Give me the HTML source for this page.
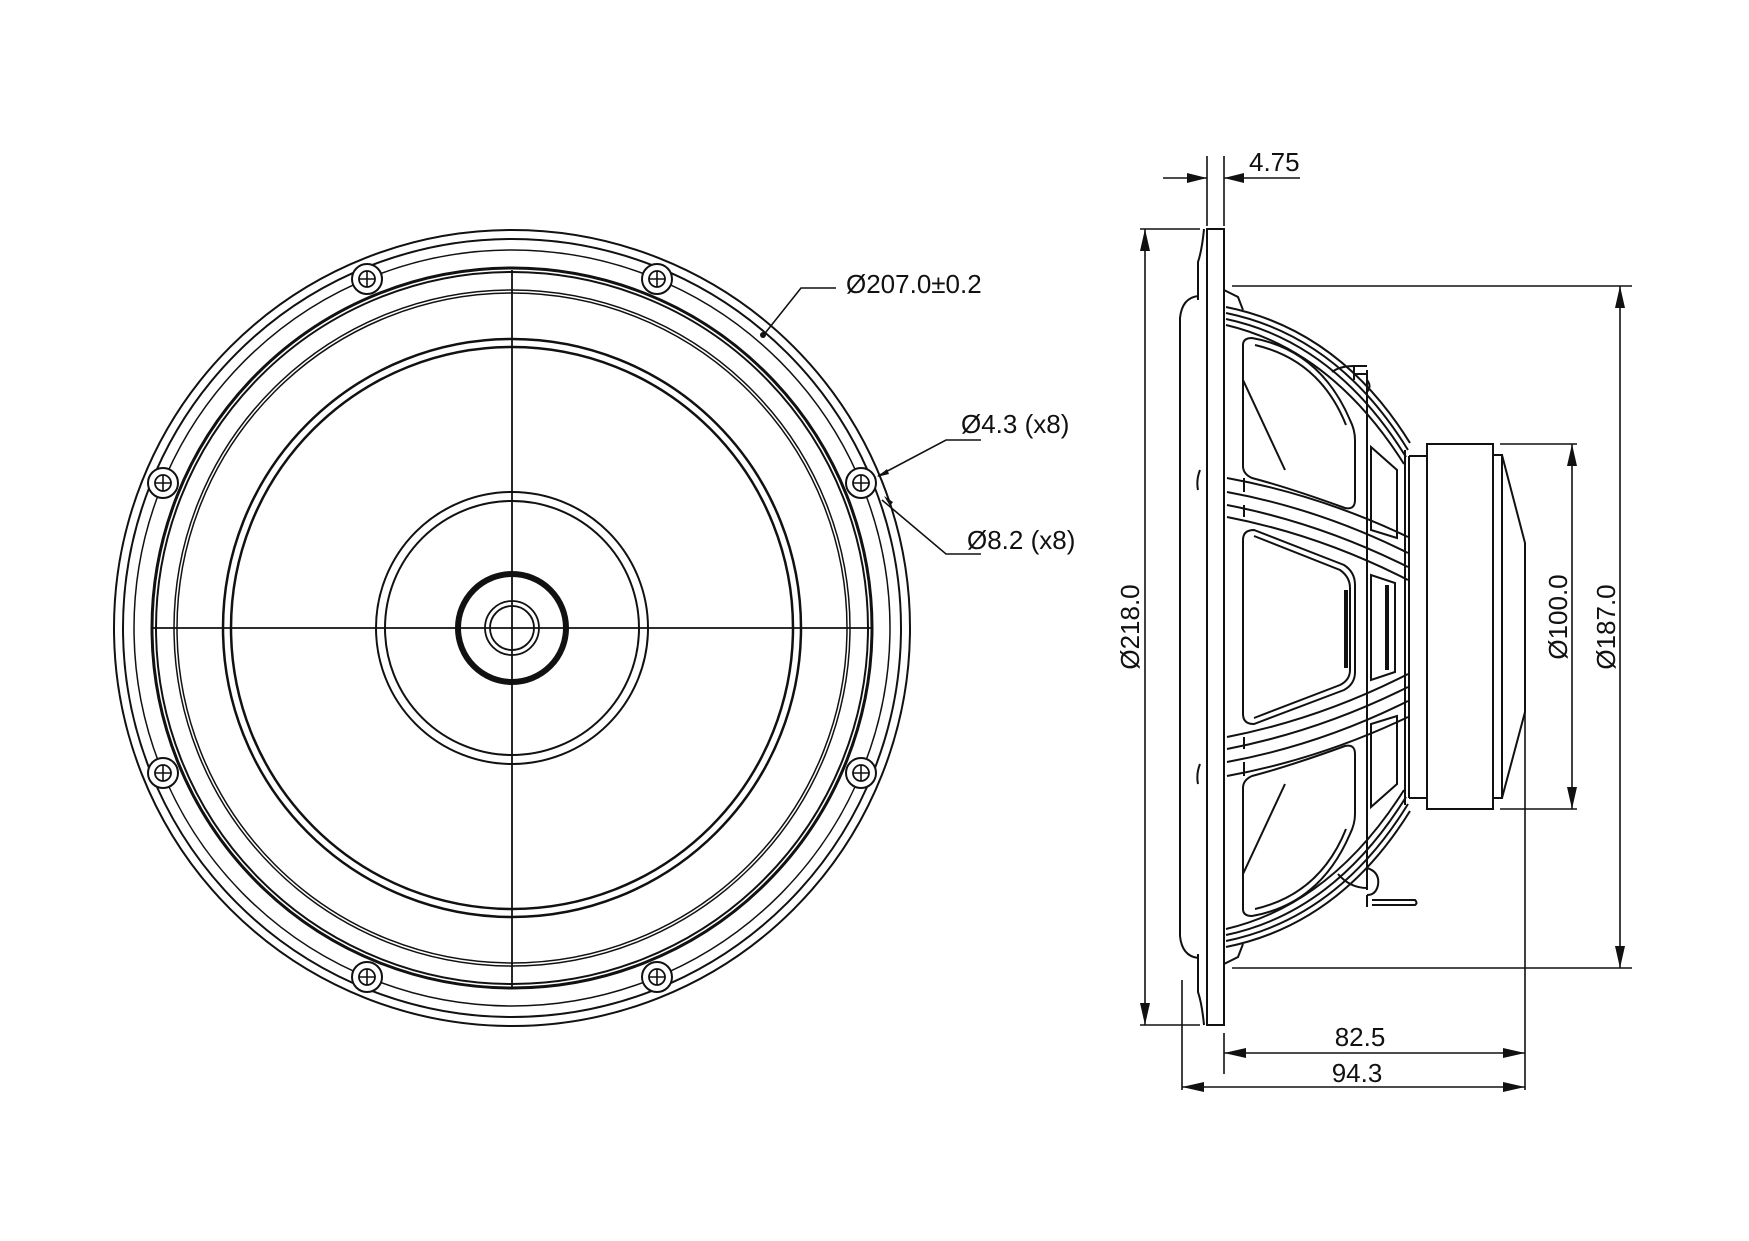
<!DOCTYPE html>
<html><head><meta charset="utf-8"><style>
html,body{margin:0;padding:0;background:#fff;}
svg{display:block;}
text{font-family:"Liberation Sans",Arial,sans-serif;fill:#111;}
</style></head><body>
<svg width="1749" height="1241" viewBox="0 0 1749 1241" xmlns="http://www.w3.org/2000/svg">
<defs>
<g id="scr"><circle r="15" fill="#fff" stroke="#111" stroke-width="2"/><circle r="8" fill="none" stroke="#111" stroke-width="1.8"/><path d="M-8 0H8M0 -8V8" stroke="#111" stroke-width="1.6"/></g>
</defs>
<g fill="none" stroke="#111">
<circle cx="512" cy="628" r="398" stroke-width="2"/>
<circle cx="512" cy="628" r="389" stroke-width="2"/>
<circle cx="512" cy="628" r="378" stroke-width="1.5"/>
<circle cx="512" cy="628" r="360" stroke-width="3"/>
<circle cx="512" cy="628" r="356" stroke-width="2"/>
<circle cx="512" cy="628" r="338" stroke-width="1.5"/>
<circle cx="512" cy="628" r="335" stroke-width="1.5"/>
<circle cx="512" cy="628" r="289" stroke-width="2.5"/>
<circle cx="512" cy="628" r="281" stroke-width="2.5"/>
<circle cx="512" cy="628" r="136" stroke-width="2"/>
<circle cx="512" cy="628" r="127" stroke-width="2"/>
<circle cx="512" cy="628" r="54" stroke-width="6"/>
<circle cx="512" cy="628" r="27" stroke-width="1.8"/>
<circle cx="512" cy="628" r="22" stroke-width="1.8"/>
<path d="M152 628H871M512 270V987" stroke-width="1.8"/>
</g>
<use href="#scr" x="367" y="279"/>
<use href="#scr" x="657" y="279"/>
<use href="#scr" x="163" y="483"/>
<use href="#scr" x="861" y="483"/>
<use href="#scr" x="163" y="773"/>
<use href="#scr" x="861" y="773"/>
<use href="#scr" x="367" y="977"/>
<use href="#scr" x="657" y="977"/>
<g fill="none" stroke="#111" stroke-width="1.6">
<path d="M762 337L801 288H836"/>
<path d="M878 476L946 440H981"/>
<path d="M882 500L946 554H981"/>
</g>
<circle cx="763" cy="335" r="3" fill="#111"/>
<path d="M877 477l10 -8l2 5z M884 496l6 10l3-4z" fill="#111"/>
<text x="846" y="293" font-size="26">Ø207.0±0.2</text>
<text x="961" y="433" font-size="26">Ø4.3 (x8)</text>
<text x="967" y="549" font-size="26">Ø8.2 (x8)</text>

<g fill="none" stroke="#111" stroke-width="2">
<rect x="1207" y="229" width="17" height="796"/>
<path d="M1204 229 Q1202 250 1198 262 L1198 300 M1204 1025 Q1202 1004 1198 992 L1198 954"/>
<path d="M1198 296 Q1182 298 1180 318 V936 Q1182 956 1198 958"/>
<path d="M1200 470 Q1196 480 1198 490 M1200 764 Q1196 774 1198 784"/>
<path d="M1224 290 L1238 297 L1243 310 M1224 964 L1238 957 L1243 944"/>
<path d="M1226 307 Q1340 330 1410 443"/>
<path d="M1226 313 Q1338 336 1408 450"/>
<path d="M1226 319 Q1335 342 1406 457"/>
<path d="M1226 325 Q1332 350 1404 464"/>
<path d="M1226 947 Q1340 924 1410 811"/>
<path d="M1226 941 Q1338 918 1408 804"/>
<path d="M1226 935 Q1335 912 1406 797"/>
<path d="M1226 929 Q1332 904 1404 790"/>
<path d="M1227 478 Q1320 495 1408 537"/>
<path d="M1227 492 Q1320 509 1408 553"/>
<path d="M1227 505 Q1320 523 1408 567"/>
<path d="M1227 517 Q1320 535 1408 580"/>
<path d="M1244 478V492M1244 505V517"/>
<path d="M1227 776 Q1320 759 1408 717"/>
<path d="M1227 762 Q1320 745 1408 701"/>
<path d="M1227 749 Q1320 731 1408 687"/>
<path d="M1227 737 Q1320 719 1408 674"/>
<path d="M1244 776V762M1244 749V737"/>
<path d="M1243 345 Q1243 338 1252 338 Q1320 350 1350 420 Q1355 430 1355 440 V500 Q1355 510 1345 508 Q1290 488 1252 478 Q1243 474 1243 466 Z"/>
<path d="M1255 345 Q1320 360 1346 425 M1243 380 L1285 470"/>
<path d="M1243 909 Q1243 916 1252 916 Q1320 904 1350 834 Q1355 824 1355 814 V754 Q1355 744 1345 746 Q1290 766 1252 776 Q1243 780 1243 788 Z"/>
<path d="M1255 909 Q1320 894 1346 829 M1243 874 L1285 784"/>
<path d="M1243 540 Q1243 530 1254 530 L1344 565 Q1355 572 1355 585 V672 Q1355 684 1344 690 L1254 724 Q1243 724 1243 714 Z"/>
<path d="M1254 536 L1340 570 Q1350 577 1350 588 V670 Q1350 680 1340 685 L1254 718"/>
<path d="M1346 590V668" stroke-width="4"/>
<path d="M1367 370V890"/>
<path d="M1405 450V805"/>
<path d="M1409 456V798"/>
<path d="M1371 447V530L1397 538V470Z"/>
<path d="M1371 575V680L1395 672V583Z"/>
<path d="M1387 585V670" stroke-width="4"/>
<path d="M1371 807V724L1397 716V784Z"/>
<path d="M1332 372 Q1340 366 1354 366 H1367 M1354 366V380 M1354 374H1367 M1367 380 Q1372 386 1367 392"/>
<path d="M1338 874 Q1350 888 1367 888 M1367 868 Q1380 872 1378 885 Q1376 895 1367 895 M1367 895V907 M1372 900 H1415 Q1418 903 1415 905 H1372"/>
<path d="M1409 456H1427V798H1409"/>
<rect x="1427" y="444" width="66" height="365"/>
<rect x="1493" y="455" width="9" height="343"/>
<path d="M1502 455 L1525 543 V712 L1502 798"/>
</g>
<g fill="none" stroke="#111" stroke-width="1.6">
<path d="M1207 156V226M1224 156V226"/>
<path d="M1163 178H1207M1224 178H1300"/>
<path d="M1140 229H1200M1140 1025H1200M1145 229V1025"/>
<path d="M1232 286H1632M1232 968H1632M1620 286V968"/>
<path d="M1500 444H1577M1500 809H1577M1572 444V809"/>
<path d="M1224 1033V1074M1182 980V1090M1525 712V1090"/>
<path d="M1224 1053H1525M1182 1087H1525"/>
</g>
<g fill="#111">
<path d="M1207 178l-20 -5v10z M1224 178l20 -5v10z"/>
<path d="M1145 229l-5 22h10z M1145 1025l-5 -22h10z"/>
<path d="M1620 286l-5 22h10z M1620 968l-5 -22h10z"/>
<path d="M1572 444l-5 22h10z M1572 809l-5 -22h10z"/>
<path d="M1224 1053l22 -5v10z M1525 1053l-22 -5v10z"/>
<path d="M1182 1087l22 -5v10z M1525 1087l-22 -5v10z"/>
</g>
<text x="1249" y="171" font-size="26">4.75</text>
<text x="1360" y="1046" font-size="26" text-anchor="middle">82.5</text>
<text x="1357" y="1082" font-size="26" text-anchor="middle">94.3</text>
<text transform="translate(1139 627) rotate(-90)" font-size="26" text-anchor="middle">Ø218.0</text>
<text transform="translate(1567 617) rotate(-90)" font-size="26" text-anchor="middle">Ø100.0</text>
<text transform="translate(1615 627) rotate(-90)" font-size="26" text-anchor="middle">Ø187.0</text>
</svg>
</body></html>
